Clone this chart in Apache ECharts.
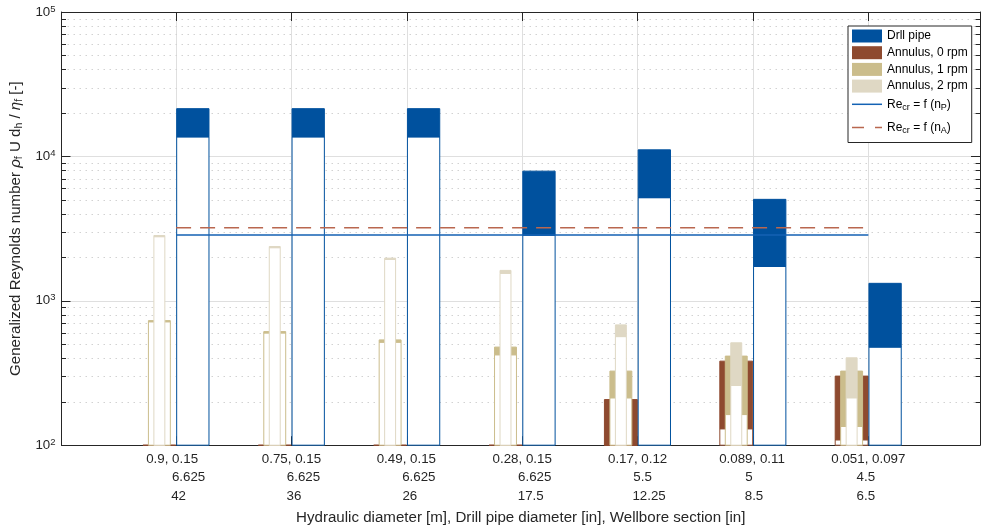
<!DOCTYPE html>
<html>
<head>
<meta charset="utf-8">
<script src="https://cdn.jsdelivr.net/npm/echarts@6/dist/echarts.min.js"></script>
<style>html,body{margin:0;padding:0;background:#fff}#c{width:984px;height:530px}</style>
</head>
<body>
<div id="c"></div>
<script>
// ---------------- DATA ----------------
const categories = [1, 2, 3, 4, 5, 6, 7];
const hydraulicDiameter = ['0.9', '0.75', '0.49', '0.28', '0.17', '0.089', '0.051'];
const pipeHydraulicDiameter = ['0.15', '0.15', '0.15', '0.15', '0.12', '0.11', '0.097'];
const drillPipeDiameter = ['6.625', '6.625', '6.625', '6.625', '5.5', '5', '4.5'];
const wellboreSection = ['42', '36', '26', '17.5', '12.25', '8.5', '6.5'];

const drillPipeLow  = [13650, 13650, 13650, 2846, 5179, 1730, 478];
const drillPipeHigh = [21410, 21410, 21410, 7905, 11104, 5042, 1321];
const annulus0Low   = [100, 100, 100, 100, 100, 130, 109];
const annulus0High  = [100, 100, 100, 100, 207, 382, 301];
const annulus1Low   = [716, 599, 517, 423, 213, 163, 135];
const annulus1High  = [729, 612, 536, 478, 326, 414, 326];
const annulus2Low   = [2780, 2333, 1937, 1549, 565, 259, 213];
const annulus2High  = [2832, 2377, 1974, 1624, 681, 512, 403];
const reCrPipe      = [2850, 2850, 2850, 2850, 2850, 2850, 2850];
const reCrAnnulus   = [3205, 3205, 3205, 3205, 3205, 3205, 3205];

const yMin = 100, yMax = 100000;
const yMinorValues = [200, 300, 400, 500, 600, 700, 800, 900,
                      2000, 3000, 4000, 5000, 6000, 7000, 8000, 9000,
                      20000, 30000, 40000, 50000, 60000, 70000, 80000, 90000];

// ---------------- STYLE ----------------
const FONT = '"Liberation Sans", Arial, Helvetica, sans-serif';
const AX = '#262626';
const C_PIPE = '#00519e', C_A0 = '#8e4a2f', C_A1 = '#cbbd8c', C_A2 = '#dfd8c4';
const C_LINE_P = '#1462b4', C_LINE_A = '#b9674f';
const xMin = 0.0068, xMax = 7.9676;
// label line paddings [right,left] per group, lines 1..3
const labelPad = [
  [[8,0],[0,25],[0,5]],
  [[0,0],[0,24],[0,5]],
  [[1,0],[0,24],[0,6]],
  [[0,0],[0,25],[0,17]],
  [[0,0],[0,10],[0,23]],
  [[2,0],[8,0],[0,2]],
  [[0,0],[5,0],[5,0]]
];
const xRich = {};
labelPad.forEach((g, i) => {
  g.forEach((p, j) => {
    xRich['l' + j + '_' + i] = {fontSize: 13.33, lineHeight: 18.3, color: AX, fontFamily: FONT, align: 'center', padding: [0, p[0], 0, p[1]]};
  });
});

function barRenderer(offset, width, fill, stroke) {
  return function (params, api) {
    const x = api.value(0), lo = api.value(1), hi = api.value(2);
    const base = api.coord([x, yMin])[1];
    const yLo = api.coord([x, lo])[1];
    const yHi = api.coord([x, hi])[1];
    const l = api.coord([x + offset - width / 2, yMin])[0];
    const r = api.coord([x + offset + width / 2, yMin])[0];
    const ch = [];
    ch.push({type: 'rect', shape: {x: l, y: yLo, width: r - l, height: base - yLo},
             style: {fill: '#ffffff', stroke: stroke, lineWidth: 1}});
    if (hi > lo) {
      ch.push({type: 'rect', shape: {x: l, y: yHi, width: r - l, height: yLo - yHi},
               style: {fill: fill, stroke: fill, lineWidth: 1}});
    }
    return {type: 'group', children: ch};
  };
}
function pairs(lo, hi) { return categories.map((c, i) => [c, lo[i], hi[i]]); }

const chart = echarts.init(document.getElementById('c'), null, {renderer: 'canvas'});
const option = {
  animation: false,
  backgroundColor: '#ffffff',
  textStyle: {fontFamily: FONT},
  grid: {left: 61, right: 4, top: 12, bottom: 83.5, containLabel: false},
  xAxis: [{
    type: 'value', min: xMin, max: xMax, position: 'bottom',
    axisLine: {show: true, onZero: false, lineStyle: {color: AX, width: 1}},
    axisTick: {show: true, inside: true, length: 9, customValues: categories, lineStyle: {color: AX}},
    axisLabel: {
      customValues: categories, margin: 5, color: AX, fontFamily: FONT, fontSize: 13.33, lineHeight: 18.3,
      formatter: function (v) {
        const i = Math.round(v) - 1;
        return '{l0_' + i + '|' + hydraulicDiameter[i] + ', ' + pipeHydraulicDiameter[i] + '}\n' +
               '{l1_' + i + '|' + drillPipeDiameter[i] + '}\n' +
               '{l2_' + i + '|' + wellboreSection[i] + '}';
      },
      rich: xRich
    },
    splitLine: {show: true, lineStyle: {color: '#dfdfdf', width: 1}},
    name: 'Hydraulic diameter [m], Drill pipe diameter [in], Wellbore section [in]',
    nameLocation: 'middle', nameGap: 61.5,
    nameTextStyle: {fontSize: 15.1, color: AX, fontFamily: FONT}
  }, {
    type: 'value', min: xMin, max: xMax, position: 'top',
    axisLine: {show: true, onZero: false, lineStyle: {color: AX, width: 1}},
    axisTick: {show: true, inside: true, length: 9, customValues: categories, lineStyle: {color: AX}},
    axisLabel: {show: false},
    splitLine: {show: false}
  }],
  yAxis: [{
    type: 'log', logBase: 10, min: yMin, max: yMax, position: 'left',
    axisLine: {show: true, onZero: false, lineStyle: {color: AX, width: 1}},
    axisTick: {show: true, inside: true, length: 9, lineStyle: {color: AX}},
    axisLabel: {
      margin: 6, color: AX, fontFamily: FONT, fontSize: 13.33,
      formatter: function (v) { return '{b|10}{s|' + Math.round(Math.log10(v)) + '}'; },
      rich: {
        b: {fontSize: 13.33, color: AX, fontFamily: FONT, lineHeight: 16},
        s: {fontSize: 9.5, color: AX, fontFamily: FONT, verticalAlign: 'top', lineHeight: 10, padding: [0, 0, 6, 0]}
      }
    },
    splitLine: {show: true, lineStyle: {color: '#dfdfdf', width: 1}},
    name: 'Generalized Reynolds number {i|ρ}{s|f} U d{s|h} / {i|η}{s|f} [-]',
    nameLocation: 'middle', nameGap: 30, nameRotate: 90,
    nameTextStyle: {
      fontSize: 15.1, color: AX, fontFamily: FONT,
      rich: {
        i: {fontSize: 15.1, fontStyle: 'italic', color: AX, fontFamily: FONT, lineHeight: 18},
        s: {fontSize: 10.5, color: AX, fontFamily: FONT, verticalAlign: 'middle', padding: [7, 0, 0, 0]}
      }
    }
  }, {
    type: 'log', logBase: 10, min: yMin, max: yMax, position: 'right',
    axisLine: {show: true, onZero: false, lineStyle: {color: AX, width: 1}},
    axisTick: {show: true, inside: true, length: 9, lineStyle: {color: AX}},
    axisLabel: {show: false},
    splitLine: {show: false}
  }],
  legend: {
    orient: 'vertical', left: 848, top: 26, padding: [3, 4, 3, 4],
    itemWidth: 30, itemHeight: 13, itemGap: 2.7,
    backgroundColor: '#ffffff', borderColor: AX, borderWidth: 1, borderRadius: 0,
    textStyle: {
      fontSize: 12, color: '#000', fontFamily: FONT, lineHeight: 14,
      rich: {
        n: {fontSize: 12, color: '#000', fontFamily: FONT, lineHeight: 17},
        m: {fontSize: 12, color: '#000', fontFamily: FONT, lineHeight: 24},
        s: {fontSize: 9, color: '#000', fontFamily: FONT, verticalAlign: 'middle', padding: [7, 0, 0, 0]}
      }
    },
    formatter: function (name) {
      if (name === 'ReP') return '{n|Re}{s|cr}{n| = f (n}{s|P}{n|)}';
      if (name === 'ReA') return '{m|Re}{s|cr}{m| = f (n}{s|A}{m|)}';
      return name;
    },
    data: [
      {name: 'Drll pipe', icon: 'rect'},
      {name: 'Annulus, 0 rpm', icon: 'rect'},
      {name: 'Annulus, 1 rpm', icon: 'rect'},
      {name: 'Annulus, 2 rpm', icon: 'rect'},
      {name: 'ReP', icon: 'path://M0,0H30V1.5H0Z'},
      {name: 'ReA', icon: 'path://M0,0H12V1.5H0ZM23,0H30V1.5H23Z'}
    ]
  },
  series: [
    {
      name: 'minorGrid', type: 'custom', silent: true, z: 0,
      data: yMinorValues.map(v => [1, v]),
      renderItem: function (params, api) {
        const cs = params.coordSys;
        const y = Math.round(api.coord([1, api.value(1)])[1]) + 0.5;
        return {type: 'group', children: [
          {type: 'line', shape: {x1: cs.x, y1: y, x2: cs.x + cs.width, y2: y}, style: {stroke: '#d2d2d2', lineWidth: 1, lineDash: [1.5, 4.5]}},
          {type: 'line', shape: {x1: cs.x, y1: y, x2: cs.x + 4.5, y2: y}, style: {stroke: AX, lineWidth: 1}},
          {type: 'line', shape: {x1: cs.x + cs.width - 4.5, y1: y, x2: cs.x + cs.width, y2: y}, style: {stroke: AX, lineWidth: 1}}
        ]};
      }
    },
    {name: 'Annulus, 0 rpm', type: 'custom', z: 2, itemStyle: {color: C_A0},
     data: pairs(annulus0Low, annulus0High), renderItem: barRenderer(-0.145, 0.285, C_A0, C_A0)},
    {name: 'Annulus, 1 rpm', type: 'custom', z: 3, itemStyle: {color: C_A1},
     data: pairs(annulus1Low, annulus1High), renderItem: barRenderer(-0.145, 0.19, C_A1, C_A1)},
    {name: 'Annulus, 2 rpm', type: 'custom', z: 4, itemStyle: {color: C_A2},
     data: pairs(annulus2Low, annulus2High), renderItem: barRenderer(-0.145, 0.095, C_A2, C_A2)},
    {name: 'Drll pipe', type: 'custom', z: 5, itemStyle: {color: C_PIPE},
     data: pairs(drillPipeLow, drillPipeHigh), renderItem: barRenderer(0.145, 0.28, C_PIPE, C_PIPE)},
    {name: 'ReP', type: 'line', z: 6, symbol: 'none', itemStyle: {color: C_LINE_P},
     lineStyle: {color: C_LINE_P, width: 1.5},
     data: categories.map((c, i) => [c, reCrPipe[i]])},
    {name: 'ReA', type: 'line', z: 6, symbol: 'none', itemStyle: {color: C_LINE_A},
     lineStyle: {color: C_LINE_A, width: 1.5, type: [15, 9]},
     data: categories.map((c, i) => [c, reCrAnnulus[i]])}
  ]
};
chart.setOption(option);
</script>
</body>
</html>
